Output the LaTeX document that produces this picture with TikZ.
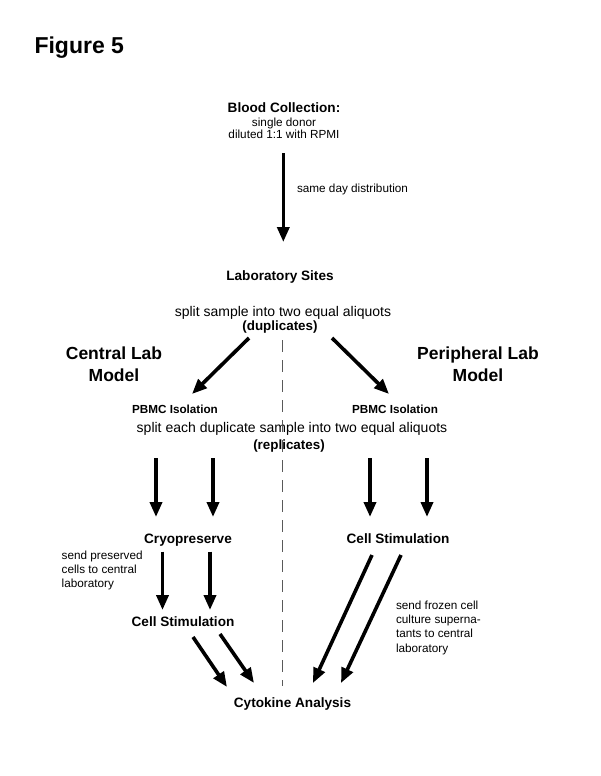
\documentclass[tikz,border=0pt]{standalone}
\usepackage{fontspec}
\setmainfont{Liberation Sans}
\usetikzlibrary{arrows.meta}
\begin{document}
\begin{tikzpicture}[x=1pt,y=-1pt,
  every node/.style={inner sep=0pt,outer sep=0pt},
  fig/.style={font=\fontsize{23}{27}\selectfont\bfseries,anchor=base west},
  head/.style={font=\fontsize{13.6}{16}\selectfont\bfseries,anchor=base},
  model/.style={font=\fontsize{17.5}{22}\selectfont\bfseries,align=center,anchor=base},
  pbmc/.style={font=\fontsize{11.7}{14}\selectfont\bfseries,anchor=base},
  note/.style={font=\fontsize{11.75}{14}\selectfont,align=left,anchor=base west},
  subnote/.style={font=\fontsize{11.75}{12.4}\selectfont,align=center,anchor=base},
  split/.style={font=\fontsize{14}{16}\selectfont,anchor=base},
  splitb/.style={font=\fontsize{13.4}{16}\selectfont\bfseries,anchor=base},
  flow/.style={line width=3.6pt,-{Triangle[length=15pt,width=12pt]}},
  divider/.style={line width=1.4pt,draw=black!65,dash pattern=on 12pt off 8pt}]
\fill[white] (0,0) rectangle (600,776);
\useasboundingbox (0,0) rectangle (600,776);

% texts (multi-line nodes are placed by the baseline of their last line)
\node[fig] (title) at (34.5,53.3) {Figure 5};
\node[head] (blood) at (284,112.6) {Blood Collection:};
\node[subnote] (donor) at (284,138.6) {single donor\\diluted 1:1 with RPMI};
\node[note] (sameday) at (297,192.5) {same day distribution};
\node[head] (labs) at (280,280.6) {Laboratory Sites};
\node[split] (splitA) at (283,316) {split sample into two equal aliquots};
\node[splitb] (dup) at (280,330.7) {(duplicates)};
\node[model] (central) at (114,381.3) {Central Lab\\Model};
\node[model] (periph) at (478,381.3) {Peripheral Lab\\Model};
\node[pbmc] (pbmcL) at (175,413.2) {PBMC Isolation};
\node[pbmc] (pbmcR) at (395,413.2) {PBMC Isolation};
\node[split] (splitB) at (292,432.5) {split each duplicate sample into two equal aliquots};
\node[splitb] (rep) at (289,449.5) {(replicates)};
\node[head] (cryo) at (188,543) {Cryopreserve};
\node[head] (stimR) at (398,543) {Cell Stimulation};
\node[note] (sendpres) at (61.7,587.5) {send preserved\\cells to central\\laboratory};
\node[head] (stimL) at (183,626.5) {Cell Stimulation};
\node[note,font=\fontsize{11.75}{14.2}\selectfont] (sendfroz) at (396,652.1) {send frozen cell\\culture superna-\\tants to central\\laboratory};
\node[head] (cyto) at (292.5,707.7) {Cytokine Analysis};

% connector end points
\coordinate (a0s) at (283.3,153);   \coordinate (a0e) at (283.3,242);
\coordinate (d1s) at (249,338);     \coordinate (d1e) at (192,394);
\coordinate (d2s) at (332,338);     \coordinate (d2e) at (389,394);
\coordinate (v1s) at (156,458);     \coordinate (v1e) at (156,517);
\coordinate (v2s) at (213,458);     \coordinate (v2e) at (213,517);
\coordinate (v3s) at (370,458);     \coordinate (v3e) at (370,517);
\coordinate (v4s) at (427,458);     \coordinate (v4e) at (427,517);
\coordinate (c1s) at (162.5,551.5); \coordinate (c1e) at (162.5,610);
\coordinate (c2s) at (210,551.5);   \coordinate (c2e) at (210,610);
\coordinate (s1s) at (193,637);     \coordinate (s1e) at (227,687);
\coordinate (s2s) at (220,634);     \coordinate (s2e) at (254,683);
\coordinate (r1s) at (372,555);     \coordinate (r1e) at (313,683);
\coordinate (r2s) at (401,555);     \coordinate (r2e) at (341,683);
\coordinate (dvs) at (282.5,340);   \coordinate (dve) at (282.5,686);

% divider
\draw[divider] (dvs) -- (dve);

% arrows
\draw[flow] (a0s) -- (a0e);
\draw[flow] (d1s) -- (d1e);
\draw[flow] (d2s) -- (d2e);
\draw[flow] (v1s) -- (v1e);
\draw[flow] (v2s) -- (v2e);
\draw[flow] (v3s) -- (v3e);
\draw[flow] (v4s) -- (v4e);
\draw[flow] (c1s) -- (c1e);
\draw[flow] (c2s) -- (c2e);
\draw[flow] (s1s) -- (s1e);
\draw[flow] (s2s) -- (s2e);
\draw[flow] (r1s) -- (r1e);
\draw[flow] (r2s) -- (r2e);
\end{tikzpicture}
\end{document}
